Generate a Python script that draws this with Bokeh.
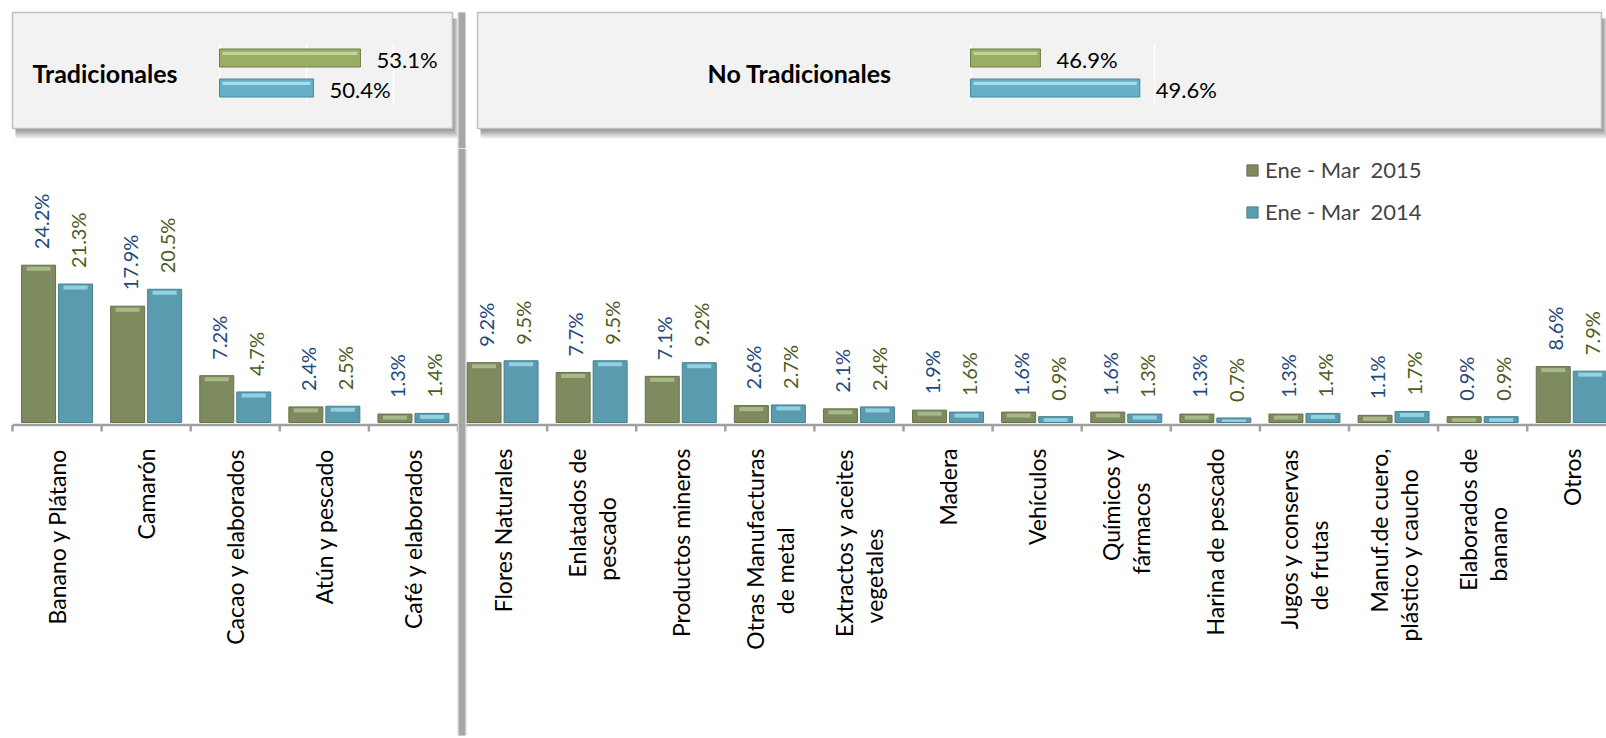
import numpy as np
from bokeh.plotting import figure
from bokeh.models import Range1d, Legend, LegendItem
from bokeh.layouts import column, row
from bokeh.embed import file_html
from bokeh.resources import INLINE
from bokeh.core.properties import value

# ---------------- data ----------------
categories = ["Banano y Plátano", "Camarón", "Cacao y elaborados", "Atún y pescado",
              "Café y elaborados", "Flores Naturales", "Enlatados de\npescado",
              "Productos mineros", "Otras Manufacturas\nde metal",
              "Extractos y aceites\nvegetales", "Madera", "Vehículos", "Químicos y\nfármacos",
              "Harina de pescado", "Jugos y conservas\nde frutas",
              "Manuf.de cuero,\nplástico y caucho", "Elaborados de\nbanano", "Otros"]
share_2015 = [24.2, 17.9, 7.2, 2.4, 1.3, 9.2, 7.7, 7.1, 2.6, 2.1, 1.9, 1.6, 1.6, 1.3, 1.3, 1.1, 0.9, 8.6]
share_2014 = [21.3, 20.5, 4.7, 2.5, 1.4, 9.5, 9.5, 9.2, 2.7, 2.4, 1.6, 0.9, 1.3, 0.7, 1.4, 1.7, 0.9, 7.9]
series_labels = ["Ene - Mar  2015", "Ene - Mar  2014"]
group_names = ["Tradicionales", "No Tradicionales"]
group_2015 = [53.1, 46.9]
group_2014 = [50.4, 49.6]
n_tradicionales = 5
mini_axis = [(45, 55), (45, 50)]

# ---------------- style ----------------
FONT = value("Lato")
PAGE_W = 1606
TOP_H = 148
MAIN_H = 590
T1_W = 466
CAT_W = 89.1
LEFT_PAD = 12.0
PX = 6.5
BASE = 274.0
G_BODY, G_HI, G_EDGE = "#7E8B5E", "#A9B888", "#66714A"
B_BODY, B_HI, B_EDGE = "#5B9BB0", "#90D2E3", "#48808F"
LBL_15, LBL_14 = "#1F497D", "#4F5B1E"
SEP_CORE, SEP_EDGE = "#A6A6A6", "#CFCFCF"


def main_chart():
    n = len(categories)
    idx = np.arange(n)
    y0, y1 = -(MAIN_H - BASE) / PX, BASE / PX
    p = figure(width=PAGE_W, height=MAIN_H,
               x_range=Range1d(-LEFT_PAD / CAT_W, (PAGE_W - LEFT_PAD) / CAT_W),
               y_range=Range1d(y0, y1),
               x_axis_type=None, y_axis_type=None, toolbar_location=None,
               output_backend="svg", min_border=0)
    p.outline_line_color = None

    bw = 34 / CAT_W
    off = 18.5 / CAT_W
    gx = idx + 0.5 - off
    bx = idx + 0.5 + off
    v15 = np.array(share_2015)
    v14 = np.array(share_2014)

    r15 = p.vbar(x=gx, top=v15, bottom=0, width=bw, fill_color=G_BODY,
                 line_color=G_EDGE, line_width=1)
    r14 = p.vbar(x=bx, top=v14, bottom=0, width=bw, fill_color=B_BODY,
                 line_color=B_EDGE, line_width=1)
    inset = 5 / CAT_W
    for xs, vs, hi in ((gx, v15, G_HI), (bx, v14, B_HI)):
        top = vs - 1.5 / PX
        bot = np.maximum(vs - 5.5 / PX, 0.6 / PX)
        p.quad(left=xs - bw / 2 + inset, right=xs + bw / 2 - inset, top=top, bottom=bot,
               fill_color=hi, line_color=None)

    # axis line and ticks
    p.segment(x0=[0], x1=[n + 1], y0=[-2.5 / PX], y1=[-2.5 / PX], line_color="#A0A0A0", line_width=2.5)
    ticks = np.arange(n + 1)
    p.segment(x0=ticks, x1=ticks, y0=-2.5 / PX, y1=-9 / PX, line_color="#A0A0A0", line_width=2.5)

    # separator between groups
    p.quad(left=[n_tradicionales - 0.5 / CAT_W], right=[n_tradicionales + 8.5 / CAT_W],
           top=[y1], bottom=[y0 + 3 / PX], fill_color=SEP_EDGE, line_color=None)
    p.quad(left=[n_tradicionales + 1 / CAT_W], right=[n_tradicionales + 7 / CAT_W],
           top=[y1], bottom=[y0 + 3 / PX], fill_color=SEP_CORE, line_color=None)

    # value labels
    p.text(x=gx + 2 / CAT_W, y=v15 + 16 / PX, text=[f"{v:.1f}%" for v in v15], angle=np.pi / 2,
           text_align="left", text_baseline="middle", text_color=LBL_15,
           text_font=FONT, text_font_size="20px")
    p.text(x=bx + 2 / CAT_W, y=v14 + 16 / PX, text=[f"{v:.1f}%" for v in v14], angle=np.pi / 2,
           text_align="left", text_baseline="middle", text_color=LBL_14,
           text_font=FONT, text_font_size="20px")

    # category labels
    fs = 23
    line_gap = 30
    first_x, first_y, first_t = [], [], []
    rest_x, rest_y, rest_t = [], [], []
    for i, cat in enumerate(categories):
        lines = cat.split("\n")
        nl = len(lines)
        w0 = len(lines[0]) * 0.46 * fs
        for k, ln in enumerate(lines):
            x = i + 0.5 + (k - (nl - 1) / 2) * line_gap / CAT_W
            if k == 0:
                first_x.append(x); first_y.append(-26 / PX); first_t.append(ln)
            else:
                rest_x.append(x); rest_y.append(-(26 + w0 / 2 + 27 * k) / PX); rest_t.append(ln)
    p.text(x=first_x, y=first_y, text=first_t, angle=np.pi / 2, text_align="right",
           text_baseline="middle", text_color="black", text_font=FONT, text_font_size=f"{fs}px")
    p.text(x=rest_x, y=rest_y, text=rest_t, angle=np.pi / 2, text_align="center",
           text_baseline="middle", text_color="black", text_font=FONT, text_font_size=f"{fs}px")

    legend = Legend(items=[LegendItem(label=series_labels[0], renderers=[r15]),
                           LegendItem(label=series_labels[1], renderers=[r14])],
                    location=(1245, 513), orientation="vertical",
                    background_fill_alpha=0, border_line_alpha=0,
                    label_text_font="Lato", label_text_font_size="22px",
                    glyph_width=14, glyph_height=14, label_height=20, spacing=15,
                    padding=0, margin=0, label_standoff=6)
    p.add_layout(legend)
    return p


BOX_T, BOX_B = 12, 128
ROW0, ROW_H = 57.5, 30


def top_panel(width, box_l, box_r, title, title_x, gi, ax_l_px, px_per, sep=False):
    t = figure(width=width, height=TOP_H, x_range=Range1d(0, width), y_range=Range1d(TOP_H, 0),
               x_axis_type=None, y_axis_type=None, toolbar_location=None,
               output_backend="svg", min_border=0)
    t.outline_line_color = None
    for d in range(1, 10):
        t.quad(left=[box_l + 3], right=[box_r + d * 0.7], top=[BOX_T + 6], bottom=[BOX_B + d * 1.1],
               fill_color="black", fill_alpha=0.055, line_color=None)
    t.quad(left=[box_l], right=[box_r], top=[BOX_T], bottom=[BOX_B], fill_color="#F2F2F2",
           line_color="#BFBFBF", line_width=1.5)
    t.text(x=[title_x], y=[(BOX_T + BOX_B) / 2 + 2], text=[title], text_font=FONT,
           text_font_style="bold", text_font_size="25px", text_align="left",
           text_baseline="middle", text_color="black")

    ax_min, ax_max = mini_axis[gi]
    t.extra_x_ranges = {"pct": Range1d(ax_min - ax_l_px / px_per, ax_min + (width - ax_l_px) / px_per)}
    t.extra_y_ranges = {"idx": Range1d((TOP_H - ROW0) / ROW_H, -ROW0 / ROW_H)}
    grid = np.arange(ax_min, ax_max + 0.01, 5)
    t.segment(x0=grid, x1=grid, y0=-0.5, y1=1.5, x_range_name="pct", y_range_name="idx",
              line_color="white", line_width=1.5)
    vals = [group_2015[gi], group_2014[gi]]
    ys = np.arange(2)
    t.hbar(y=ys, left=ax_min, right=vals, height=0.6, fill_color=["#9AAE63", "#67AFC6"],
           line_color=["#6F7F45", "#44889C"], line_width=1, x_range_name="pct", y_range_name="idx")
    ins = 3 / px_per
    t.quad(left=ax_min + ins, right=np.array(vals) - ins, top=ys - 0.3 + 0.09, bottom=ys - 0.3 + 0.2,
           fill_color=["#C3D398", "#A3DCEB"], line_color=None, x_range_name="pct", y_range_name="idx")
    t.text(x=np.array(vals) + 16 / px_per, y=ys + 0.05, text=[f"{v:.1f}%" for v in vals],
           text_font=FONT, text_font_size="22px", text_align="left", text_baseline="middle",
           text_color="black", x_range_name="pct", y_range_name="idx")
    if sep:
        t.quad(left=[width - 9], right=[width], top=[12], bottom=[TOP_H], fill_color=SEP_EDGE, line_color=None)
        t.quad(left=[width - 7.5], right=[width - 1.5], top=[12], bottom=[TOP_H], fill_color=SEP_CORE, line_color=None)
    return t


t1 = top_panel(T1_W, 12, 452, group_names[0], 32, 0, 219, 17.4, sep=True)
t2 = top_panel(PAGE_W - T1_W, 11, 1135, group_names[1], 241, 1, 504, 36.8)
main = main_chart()

layout = column(row(t1, t2, spacing=0), main, spacing=0)
open("out.html", "w").write(file_html(layout, INLINE))
